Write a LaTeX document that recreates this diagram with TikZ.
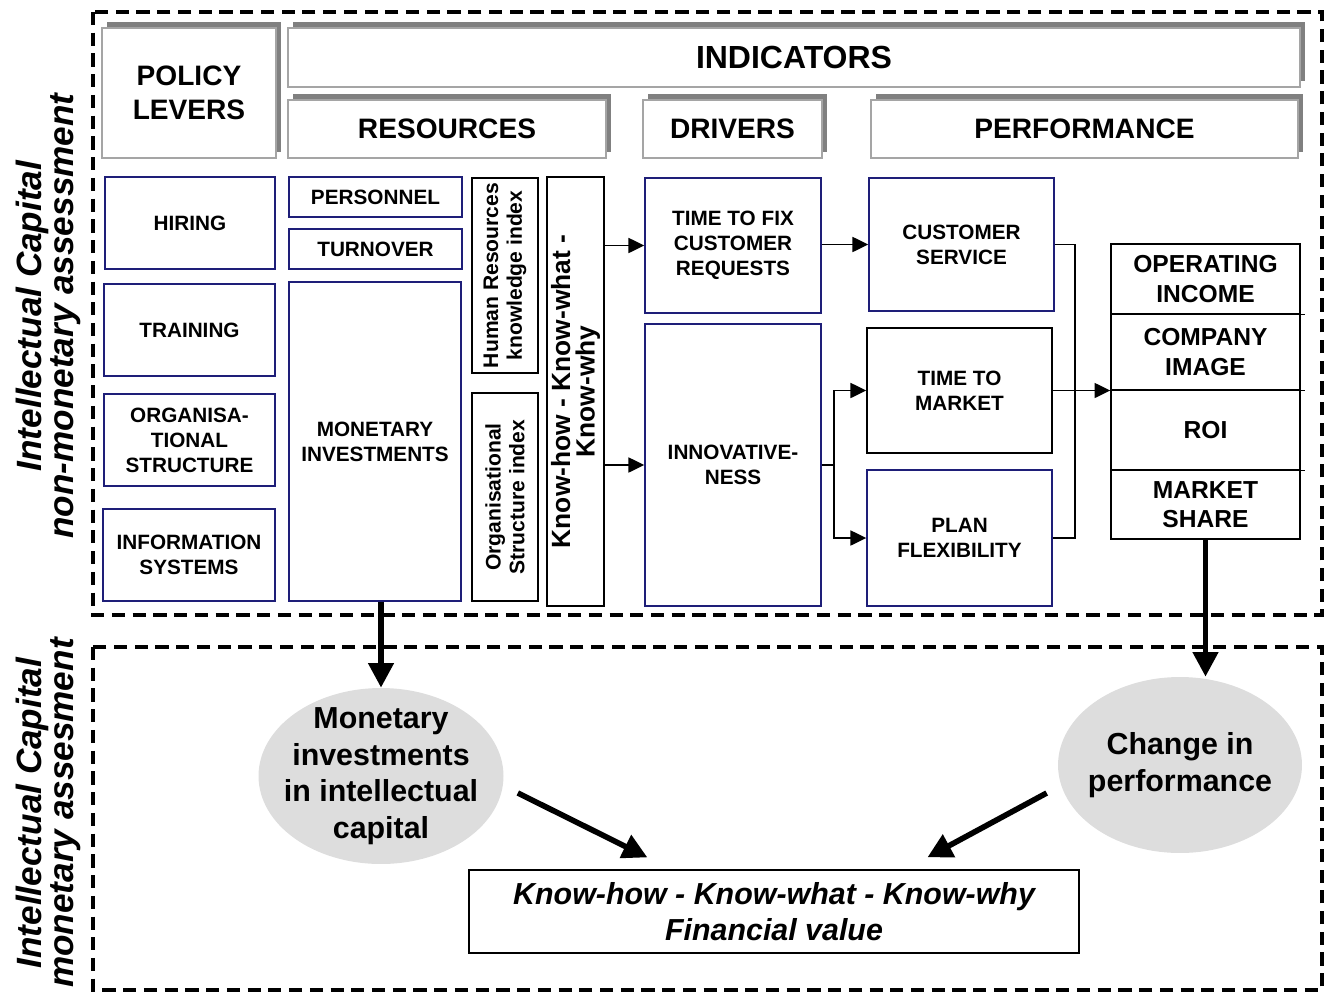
\documentclass[tikz,border=0pt]{standalone}
\usepackage{fontspec}
\setmainfont{Liberation Sans}
\usetikzlibrary{arrows.meta,shadows,calc,shapes.geometric}

\definecolor{bordoblu}{RGB}{30,30,120}
\definecolor{grigiobordo}{RGB}{165,165,165}
\definecolor{grigioombra}{RGB}{128,128,128}
\definecolor{grigioovale}{RGB}{221,221,221}

\begin{document}
\begin{tikzpicture}[x=0.02cm, y=-0.02cm,
    misura/.style 2 args={minimum width=#1*0.02cm, minimum height=#2*0.02cm},
    cella/.style={draw=bordoblu, line width=0.8pt, inner sep=0pt, align=center,
      font=\bfseries\fontsize{11.8}{14.2}\selectfont},
    cellanera/.style={cella, draw=black},
    pila/.style={cellanera, font=\bfseries\fontsize{14}{16.7}\selectfont},
    testov/.style={rotate=90, align=center, inner sep=0pt},
    intestazione/.style={draw=grigiobordo, fill=white, line width=0.6pt, inner sep=0pt,
      align=center, font=\bfseries\fontsize{16}{19}\selectfont,
      drop shadow={shadow xshift=0.09cm, shadow yshift=0.12cm, fill=grigioombra, opacity=1}},
    ovale/.style={ellipse, fill=grigioovale, minimum width=4.88cm, minimum height=3.52cm,
      inner xsep=-0.21cm, inner ysep=-0.16cm, align=center,
      font=\bfseries\fontsize{17.3}{20.8}\selectfont},
    freccia/.style={-{Triangle[length=9pt,width=8.5pt]}, line width=1.1pt},
    linea/.style={line width=1.1pt},
    frecciona/.style={-{Triangle[length=14pt,width=14pt]}, line width=3.2pt},
    cornice/.style={line width=1.9pt, dash pattern=on 7.5pt off 4.3pt},
    etichetta/.style={rotate=90, align=center, font=\bfseries\itshape\fontsize{20}{14.5}\selectfont}]

  \useasboundingbox (0,0) rectangle (1324,994);

  % Riquadri tratteggiati
  \draw[cornice] (93,12) rectangle (1322,615);
  \draw[cornice] (93,647) rectangle (1322,990);

  % Etichette laterali
  \node[etichetta] (nonmonetaria) at (48,316) {Intellectual Capital\\non-monetary assessment};
  \node[etichetta] (monetaria) at (48,813) {Intellectual Capital\\monetary assesment};

  % Intestazioni
  \node[intestazione, misura={174}{130}] (leve) at (189,93) {POLICY\\LEVERS};
  \node[intestazione, misura={1012}{59}, font=\bfseries\fontsize{18.2}{21}\selectfont] (indicatori) at (794,57.5) {INDICATORS};
  \node[intestazione, misura={318}{58}] (risorse) at (447,129) {RESOURCES};
  \node[intestazione, misura={179}{58}] (driver) at (732.5,129) {DRIVERS};
  \node[intestazione, misura={427}{58}] (prestazioni) at (1084.5,129) {PERFORMANCE};

  % Leve
  \node[cella, misura={170}{92}] (assunzioni) at (190,223) {HIRING};
  \node[cella, misura={171}{92}] (formazione) at (189.5,330) {TRAINING};
  \node[cella, misura={171}{92}] (struttura) at (189.5,440) {ORGANISA-\\TIONAL\\STRUCTURE};
  \node[cella, misura={172}{92}] (sistemi) at (189,555) {INFORMATION\\SYSTEMS};

  % Risorse
  \node[cella, misura={173}{40}] (personale) at (375.5,197) {PERSONNEL};
  \node[cella, misura={173}{40}] (turnover) at (375.5,249) {TURNOVER};
  \node[cella, misura={172}{319}] (investimenti) at (375,441.5) {MONETARY\\INVESTMENTS};
  \node[cellanera, misura={66}{195}] (indiceru) at (505,275.5) {};
  \node[testov, font=\bfseries\fontsize{12}{13.5}\selectfont] at (indiceru) {Human Resources\\knowledge index};
  \node[cellanera, misura={66}{208}] (indiceos) at (505,497) {};
  \node[testov, font=\bfseries\fontsize{12}{13.5}\selectfont] at (indiceos) {Organisational\\Structure index};
  \node[cellanera, misura={57}{429}] (know) at (575.5,391.5) {};
  \node[testov, font=\bfseries\fontsize{15}{14}\selectfont] at (know) {Know-how - Know-what -\\Know-why};

  % Driver
  \node[cella, misura={176}{135}] (tempofix) at (733,245.5) {TIME TO FIX\\CUSTOMER\\REQUESTS};
  \node[cella, misura={176}{282}] (innovazione) at (733,465) {INNOVATIVE-\\NESS};

  % Prestazioni
  \node[cella, misura={185}{133}] (servizio) at (961.5,244.5) {CUSTOMER\\SERVICE};
  \node[cellanera, misura={185}{125}] (ttm) at (959.5,390.5) {TIME TO\\MARKET};
  \node[cella, misura={185}{136}] (flessibilita) at (959.5,538) {PLAN\\FLEXIBILITY};

  \node[pila, misura={189}{70}] (reddito) at (1205.5,279) {OPERATING\\INCOME};
  \node[pila, misura={189}{76}] (immagine) at (1205.5,352) {COMPANY\\IMAGE};
  \node[pila, misura={189}{80}] (roi) at (1205.5,430) {ROI};
  \node[pila, misura={189}{69}] (quota) at (1205.5,504.5) {MARKET\\SHARE};
  \draw[line width=0.8pt] (reddito.south east) -- ++(4,0);
  \draw[line width=0.8pt] (immagine.south east) -- ++(4,0);
  \draw[line width=0.8pt] (roi.south east) -- ++(4,0);

  % Collegamenti
  \draw[freccia] (know.east |- tempofix.west) -- (tempofix.west);
  \draw[freccia] (know.east |- innovazione.west) -- (innovazione.west);
  \draw[freccia] (tempofix.east |- servizio.west) -- (servizio.west);
  \coordinate (nodo) at ($(innovazione.east)+(12,0)$);
  \draw[linea] (innovazione.east) -- (nodo);
  \draw[freccia] (nodo) |- (ttm.west);
  \draw[freccia] (nodo) |- (flessibilita.west);
  \coordinate (bus) at (1075,0);
  \draw[linea] (servizio.east) -- (servizio.east -| bus) -- (flessibilita.east -| bus) -- (flessibilita.east);
  \draw[freccia] (ttm.east) -- (ttm.east -| roi.west);

  % Valutazione monetaria
  \node[ovale] (monetario) at (381,776) {Monetary\\investments\\in intellectual\\capital};
  \node[ovale] (cambio) at (1180,765) {Change in\\performance};
  \node[cellanera, misura={610}{83}, line width=0.7pt,
    font=\bfseries\itshape\fontsize{17.3}{20.6}\selectfont] (valore) at (774,911.5) {Know-how - Know-what - Know-why\\Financial value};

  \draw[frecciona] (monetario.north |- investimenti.south) -- (monetario.north);
  \draw[frecciona] (quota.south) -- (quota.south |- cambio.north);
  \draw[frecciona] ($(monetario.east)+(14,17)$) -- ($(valore.north west)+(179,-12)$);
  \draw[frecciona] ($(cambio.west)+(-11,28)$) -- ($(valore.north west)+(459,-12)$);
\end{tikzpicture}
\end{document}
